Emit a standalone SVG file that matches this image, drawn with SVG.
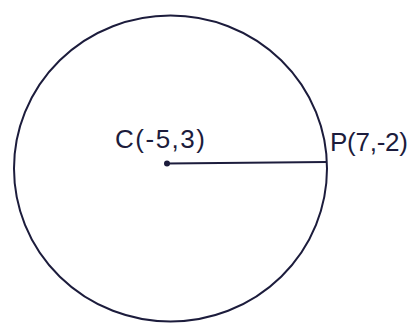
<svg xmlns="http://www.w3.org/2000/svg" width="413" height="325" viewBox="0 0 413 325">
<style>
.ink{fill:none;stroke:#1c1c3c;stroke-width:2}
.lbl{font-family:"Liberation Sans",Arial,sans-serif;font-size:26px;fill:#1c1c3c}
</style>
<rect width="413" height="325" fill="#ffffff"/>
<g id="circle"><ellipse class="ink" cx="170.5" cy="168.5" rx="156.5" ry="153"/></g>
<g id="connectors"><line class="ink" x1="167" y1="163.5" x2="327" y2="162"/></g>
<g id="C"><circle cx="167" cy="163.5" r="3" fill="#1c1c3c"/><text class="lbl" x="115" y="148" textLength="90">C(-5,3)</text></g>
<g id="P"><text class="lbl" x="330" y="151" textLength="78">P(7,-2)</text></g>
</svg>
